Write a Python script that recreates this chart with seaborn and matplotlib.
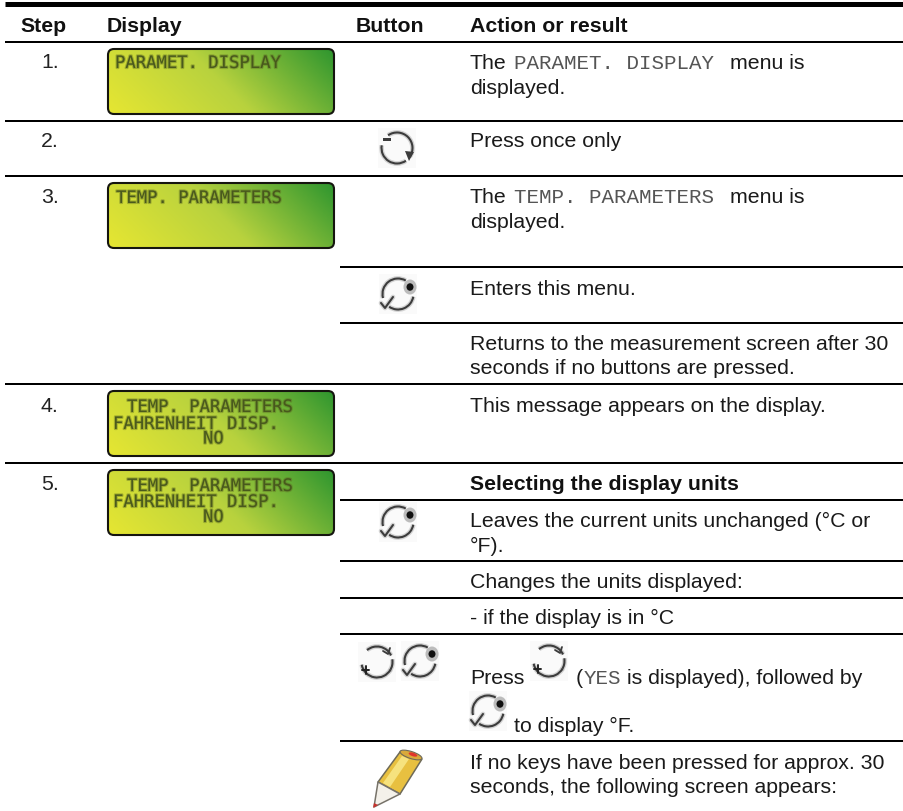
import numpy as np
import matplotlib
matplotlib.use("Agg")
import matplotlib.pyplot as plt
import matplotlib.patheffects as pe
from matplotlib.patches import FancyBboxPatch, Arc, Polygon, Rectangle, Ellipse
import seaborn as sns

sns.set_theme(style="white")
plt.rcParams['font.family'] = ['Liberation Sans', 'DejaVu Sans']

# ---- table content ----
headers = ["Step", "Display", "Button", "Action or result"]
header_x = [20, 107, 356, 470]
step_labels = ["1.", "2.", "3.", "4.", "5."]
step_base = [68, 147, 203, 412, 490]
body_lines = [
    ("The", 470, 69), ("menu is", 730, 69), ("displayed.", 470, 94),
    ("Press once only", 470, 147),
    ("The", 470, 203), ("menu is", 730, 203), ("displayed.", 470, 228),
    ("Enters this menu.", 470, 295),
    ("Returns to the measurement screen after 30", 470, 350),
    ("seconds if no buttons are pressed.", 470, 374),
    ("This message appears on the display.", 470, 412),
    ("Leaves the current units unchanged (°C or", 470, 527),
    ("°F).", 470, 552),
    ("Changes the units displayed:", 470, 588),
    ("- if the display is in °C", 470, 624),
    ("Press", 470, 684), ("(", 576, 684), ("is displayed), followed by", 627, 684),
    ("to display °F.", 514, 732),
    ("If no keys have been pressed for approx. 30", 470, 769),
    ("seconds, the following screen appears:", 470, 793),
]
bold_lines = [("Selecting the display units", 470, 490)]
mono_lines = [("PARAMET. DISPLAY", 514, 69), ("TEMP. PARAMETERS", 514, 203), ("YES", 584, 684)]
rule_y = [4.5, 42.5, 122, 177, 268, 324, 385, 464, 500.5, 561.5, 599, 635, 742]
rule_x0 = [5, 5, 5, 5, 340, 340, 5, 5, 340, 340, 340, 340, 340]
rule_w = [5, 2, 2, 2, 2, 2, 2, 2, 2, 2, 2, 2, 2]
lcd_top = [49, 183, 391, 470]
lcd_text = [
    [("PARAMET. DISPLAY", 115, 69)],
    [("TEMP. PARAMETERS", 116, 204)],
    [("TEMP. PARAMETERS", 127, 413), ("FAHRENHEIT DISP.", 113, 430), ("NO", 203, 444.5)],
    [("TEMP. PARAMETERS", 127, 492), ("FAHRENHEIT DISP.", 113, 508), ("NO", 203, 523)],
]
refresh_icons = [(397, 149, 0), (377, 663, 1), (549, 662, 1)]
enter_icons = [(398, 295), (398, 523), (420, 662), (488, 712)]

W, H = 904, 812
fig = plt.figure(figsize=(W / 100, H / 100), dpi=100, facecolor="white")
ax = fig.add_axes([0, 0, 1, 1])
ax.set_xlim(0, W)
ax.set_ylim(H, 0)
ax.axis("off")
FS = 15.35
px = 72 / 100

for y, x0, w in zip(rule_y, rule_x0, rule_w):
    ax.plot([x0, W], [y, y], color="black", lw=w * px, solid_capstyle="butt", zorder=2)

for s, x in zip(headers, header_x):
    ax.text(x, 31.5, s, fontsize=FS, fontweight="bold", color="#111", va="baseline")
for s, y in zip(step_labels, step_base):
    ax.text(41, y, s, fontsize=FS, color="#222", va="baseline")
for s, x, y in body_lines:
    ax.text(x, y, s, fontsize=FS, color="#1a1a1a", va="baseline")
for s, x, y in bold_lines:
    ax.text(x, y, s, fontsize=FS, fontweight="bold", color="#111", va="baseline")
for s, x, y in mono_lines:
    ax.text(x, y, s, fontsize=15, family="Liberation Mono", color="#555", va="baseline")

cmap = sns.blend_palette(["#e6e632", "#b8d23e", "#2f962f"], as_cmap=True)
gx, gy = np.meshgrid(np.linspace(0, 1, 120), np.linspace(0, 1, 40))
grad = (gx * 0.78 + (1 - gy) * 0.22)
for top, rows in zip(lcd_top, lcd_text):
    box = FancyBboxPatch((108, top + 1), 226, 65, boxstyle="round,pad=0,rounding_size=6",
                         fc="none", ec="#15150f", lw=1.5, zorder=4)
    ax.add_patch(box)
    im = ax.imshow(grad, extent=(108, 334, top + 66, top + 1), cmap=cmap, vmin=0, vmax=1,
                   aspect="auto", zorder=3, interpolation="bilinear")
    im.set_clip_path(box)
    for s, x, y in rows:
        ax.text(x, y, s, fontsize=12.4, family="DejaVu Sans Mono", color="#45541c", alpha=0.9,
                va="baseline", zorder=5,
                path_effects=[pe.withStroke(linewidth=1.6, foreground="#5c6a20", alpha=0.4)])

ICON = "#3c3c3c"
soft = [pe.withStroke(linewidth=3.4, foreground="#b8b8b8", alpha=0.6)]

def halo(cx, cy):
    ax.add_patch(Rectangle((cx - 19, cy - 20), 38, 40, fc="#fafafa", ec="none", zorder=1))

def arc(cx, cy, a, b):
    # angles measured on screen, y axis is inverted
    p = Arc((cx, cy), 31, 31, theta1=a, theta2=b, color=ICON, lw=1.5, zorder=3)
    p.set_path_effects(soft)
    ax.add_patch(p)

def refresh(cx, cy, variant):
    halo(cx, cy)
    if variant == 0:
        arc(cx, cy, 235, 395)
        arc(cx, cy, 55, 190)
        ax.add_patch(Polygon([(cx + 8, cy + 3), (cx + 17, cy + 4), (cx + 12, cy + 13)], fc=ICON, ec="none", zorder=3))
        ax.add_patch(Rectangle((cx - 14, cy - 10), 8, 2.5, fc=ICON, ec="none", zorder=3))
    else:
        arc(cx, cy, 230, 335)
        arc(cx, cy, 350, 395)
        arc(cx, cy, 30, 170)
        ax.plot([cx + 6, cx + 11, cx + 13], [cy - 11, cy - 8, cy - 14], color=ICON, lw=1.3, zorder=3)
        ax.plot([cx - 15, cx - 8], [cy + 8, cy + 8], color="#222", lw=1.4, zorder=3)
        ax.plot([cx - 11, cx - 11], [cy + 4, cy + 12], color="#222", lw=1.4, zorder=3)

def enter(cx, cy):
    halo(cx, cy)
    arc(cx, cy, 165, 300)
    arc(cx, cy, 10, 125)
    ax.add_patch(Ellipse((cx + 12, cy - 7), 13, 15, fc="#bcbcbc", ec="none", zorder=3))
    ax.add_patch(Ellipse((cx + 12, cy - 7), 7, 7.5, fc="#111", ec="none", zorder=4))
    ln, = ax.plot([cx - 17, cx - 13, cx - 5], [cy + 9, cy + 14, cy + 3], color=ICON, lw=1.5, zorder=3)
    ln.set_path_effects(soft)

for c in refresh_icons:
    refresh(*c)
for c in enter_icons:
    enter(*c)

# pencil
ax.add_patch(Polygon([(378, 783), (400, 753), (422, 760), (400, 795)], fc="#e8c040", ec="#6e6a58", lw=1.1, zorder=3))
ax.add_patch(Polygon([(383, 784), (402, 757), (409, 760), (390, 788)], fc="#f6e27e", ec="none", zorder=3))
ax.add_patch(Ellipse((411, 756), 23, 7, angle=18, fc="#d9a93a", ec="#6e6a58", lw=0.8, zorder=4))
ax.add_patch(Ellipse((413, 755.5), 9, 3.5, angle=18, fc="#e0342c", ec="none", zorder=5))
ax.add_patch(Polygon([(378, 783), (400, 795), (374, 808)], fc="#f4f1ea", ec="#77736a", lw=1.1, zorder=3))
ax.add_patch(Polygon([(373, 809), (374, 804), (378, 806)], fc="#c8322c", ec="none", zorder=4))

fig.savefig("out.png", dpi=100, facecolor="white")
